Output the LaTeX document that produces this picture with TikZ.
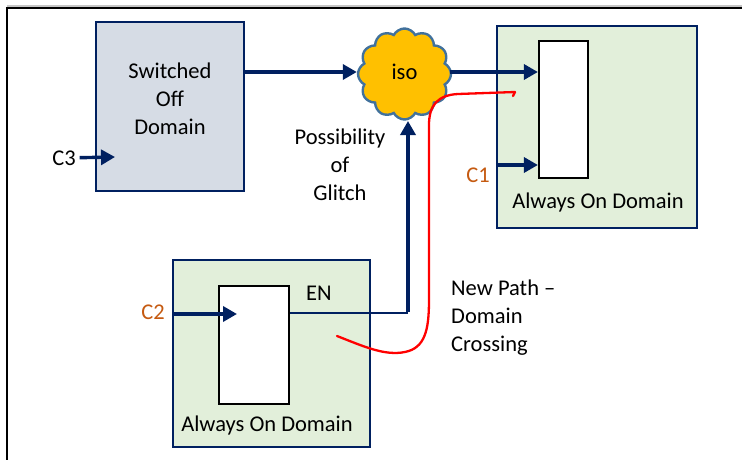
\documentclass[tikz,border=0pt]{standalone}
\usepackage{fontspec}
\setmainfont{Carlito}
\usetikzlibrary{arrows.meta,shapes.symbols}

\definecolor{navy}{HTML}{002060}
\definecolor{offfill}{HTML}{D6DCE5}
\definecolor{onfill}{HTML}{E2EFDA}
\definecolor{isofill}{HTML}{FFC000}
\definecolor{isoline}{HTML}{41719C}
\definecolor{clk}{HTML}{C55A11}

\tikzset{
  lbl/.style={font=\fontsize{22.5}{28}\selectfont, inner sep=0pt, align=center},
  clklbl/.style={lbl, text=clk},
  pdbox/.style={draw=navy, line width=2.8pt, inner sep=0pt},
  offbox/.style={pdbox, fill=offfill},
  onbox/.style={pdbox, fill=onfill},
  regbox/.style={draw=black, line width=2.2pt, fill=white, inner sep=0pt},
  isocloud/.style={cloud, cloud puffs=12, cloud puff arc=125, aspect=1,
    draw=isoline, line width=2.4pt, fill=isofill, inner sep=0pt},
  sig/.style={draw=navy, line width=3.4pt,
    -{Triangle[length=14pt,width=15pt]}},
  thinsig/.style={draw=navy, line width=1.4pt},
  crossing/.style={draw=red, line width=2.3pt, line cap=round, line join=round}
}

\begin{document}
\begin{tikzpicture}[x=1pt, y=-1pt]
\useasboundingbox (0,0) rectangle (742,460);

% page frame
\draw[gray!45, line width=1.2pt] (7,6) -- (742,6);
\draw[black, line width=2pt] (7,470) -- (7,8.5) -- (750,8.5);

% power domains
\node[offbox, minimum width=148pt, minimum height=169pt] (off) at (170,106.5) {};
\node[onbox, minimum width=200pt, minimum height=202pt] (on1) at (597,127) {};
\node[onbox, minimum width=197pt, minimum height=187pt] (on2) at (271.5,353.5) {};

% registers
\node[regbox, minimum width=49pt, minimum height=137pt] (r1) at (563.5,109.5) {};
\node[regbox, minimum width=70pt, minimum height=118pt] (r2) at (254,345) {};

% isolation cell
\node[isocloud, minimum width=93pt, minimum height=91pt] (iso) at (404.5,74) {};
\node[lbl] (isotext) at (404.5,72) {iso};

% texts
\node[lbl] (offtext) at (170,99) {Switched\\Off\\Domain};
\node[lbl] (on1text) at (598,203) {Always On Domain};
\node[lbl] (on2text) at (267,425) {Always On Domain};
\node[lbl, outer xsep=4pt] (c3) at (64,158) {C3};
\node[clklbl] (c1) at (478,175) {C1};
\node[clklbl] (c2) at (153,312) {C2};
\node[lbl] (en) at (319,293) {EN};
\node[lbl] (glitch) at (340,165) {Possibility\\of\\Glitch};
\node[lbl, align=left, anchor=west] (newpath) at (451,318) {New Path --\\Domain\\Crossing};

% connection points
\coordinate (c3tip) at (115,157);
\coordinate (c1in) at (497,165);
\coordinate (c2in) at (173,314);
\coordinate (c2tip) at (237,314);
\coordinate (enbend) at (408,313);
\coordinate (isoin) at (408,121);
\coordinate (offout) at (244,72);
\coordinate (isoout) at (450,72);

% signals
\draw[sig] (c3) -- (c3tip);
\draw[sig] (offout) -- (offout -| iso.west);
\draw[sig] (isoout) -- (isoout -| r1.west);
\draw[sig] (c1in) -- (c1in -| r1.west);
\draw[sig] (c2in) -- (c2tip);
\draw[thinsig] (r2.east |- enbend) -- (enbend);
\draw[sig] ([yshift=1.5pt]enbend) -- (isoin);

% new domain-crossing path
\coordinate (pstart) at (337,336);
\coordinate (pend) at (515,92);
\draw[crossing] (pstart) .. controls (365,347) and (385,356) .. (405,352)
  .. controls (425,348) and (429,330) .. (429,300) -- (429,125)
  .. controls (429,105) and (438,95) .. (458,94) -- (pend) -- (513,96);
\end{tikzpicture}
\end{document}
